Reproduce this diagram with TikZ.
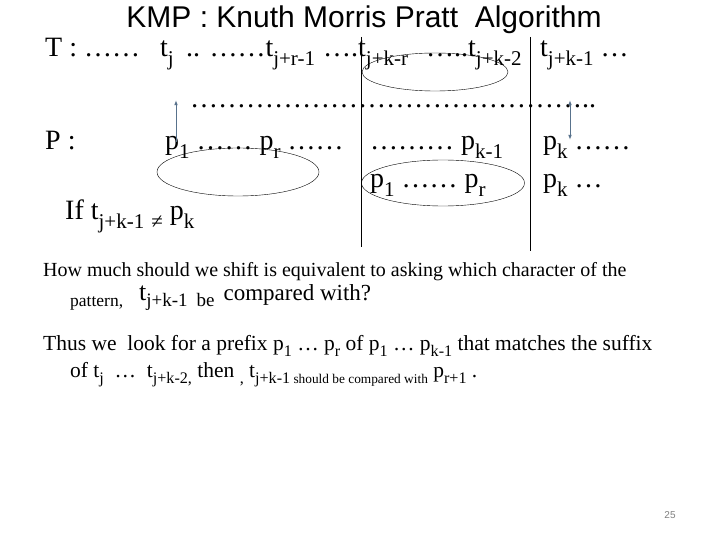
\documentclass[tikz,border=0pt]{standalone}
\usepackage{fontspec}
\setmainfont{Liberation Serif}
\newfontfamily\headfont{Liberation Sans}
\usetikzlibrary{arrows.meta,positioning,shapes.geometric}
\definecolor{ptrblue}{HTML}{58728C}
\newcommand{\dn}[1]{\raisebox{-.3em}{\scalebox{.75}{#1}}}
\newcommand{\smalldn}[1]{\raisebox{-.3em}{\scalebox{.62}{#1}}}
\begin{document}
\begin{tikzpicture}[
    x=1pt, y=-1pt,
    row/.style={anchor=base west, inner sep=0pt, font=\fontsize{28}{28}\selectfont},
    body/.style={anchor=base west, inner sep=0pt, font=\fontsize{20}{20}\selectfont},
    hoop/.style={draw, ellipse, inner sep=0pt},
    sep/.style={thin},
    ptr/.style={draw=ptrblue, line width=1pt, -{Latex[length=1.8mm,width=1.3mm]}},
    ptrboth/.style={ptr, {Latex[length=1.8mm,width=1.3mm]}-{Latex[length=1.8mm,width=1.3mm]}}
]
\useasboundingbox[fill=white] (0,0) rectangle (720,540);
\node[font=\headfont\fontsize{30}{30}\selectfont, inner sep=0pt] (title) at (364,20) {KMP : Knuth Morris Pratt\ \ Algorithm};
% text row
\node[row] (tHead) at (45,57) {T : ……};
\node[row] (tJ) at (160,57) {t\dn{j}};
\node[row] (tR) at (186,57) {.. ……t\dn{j+r-1}};
\node[row] (tKR) at (323,57) {….t\dn{j+k-r}};
\node[row] (tK2) at (426,57) {…..t\dn{j+k-2}};
\node[row] (tK1) at (540,57) {t\dn{j+k-1} …};
\node[row] (gap) at (190,108) {……………………………………..};
% pattern rows
\node[row] (pHead) at (45,150) {P :};
\node[row] (pA) at (165,150) {p\dn{1} …… p\dn{r} ……};
\node[row] (pB) at (370,150) {……… p\dn{k-1}};
\node[row] (pC) at (543,150) {p\dn{k} ……};
\node[row] (qA) at (370,188) {p\dn{1} …… p\dn{r}};
\node[row] (qB) at (543,188) {p\dn{k} …};
\node[row] (cond) at (65,220) {If t\dn{j+k-1} \dn{≠} p\dn{k}};
\node[hoop, minimum width=146pt, minimum height=38pt] (ovT) at (435,72) {};
\node[hoop, minimum width=162pt, minimum height=48pt] (ovP) at (238,172) {};
\node[hoop, minimum width=163pt, minimum height=46pt] (ovQ) at (443,183) {};
\coordinate (lnA1) at (361,37);
\coordinate (lnA2) at (361,247);
\coordinate (lnB1) at (530,37);
\coordinate (lnB2) at (530,251);
\draw[sep] (lnA1) -- (lnA2);
\draw[sep] (lnB1) -- (lnB2);
\coordinate (upA) at (176,100);
\coordinate (lowA) at (176,142);
\coordinate (upB) at (570,100);
\coordinate (lowB) at (570,140);
\draw[ptr] (lowA) -- (upA);
\draw[ptrboth] (lowB) -- (upB);
% explanation
\node[body] (q1) at (43,276) {How much should we shift is equivalent to asking which character of the};
\node[body] (q2) at (70,300) {\raisebox{-6pt}{\fontsize{17.5}{17.5}\selectfont pattern,}\hspace{16pt}{\fontsize{26}{26}\selectfont t}\raisebox{-6pt}{\fontsize{19}{19}\selectfont j+k-1\hspace{9pt}be}\hspace{9pt}{\fontsize{23}{23}\selectfont compared with?}};
\node[body, font=\fontsize{21.5}{21.5}\selectfont] (q3) at (43,350) {Thus we\ \ look for a prefix p\dn{1} … p\dn{r} of p\dn{1} … p\dn{k-1} that matches the suffix};
\node[body, font=\fontsize{21.5}{21.5}\selectfont] (q4) at (70,377) {of t\dn{j}\ \ …\ \ t\dn{j+k-2,} then \dn{,}\ t\dn{j+k-1}\smalldn{ should be compared with} p\dn{r+1} .};
\node[font=\headfont\fontsize{10}{10}\selectfont, text=gray] (pg) at (670,515) {25};
\end{tikzpicture}
\end{document}
